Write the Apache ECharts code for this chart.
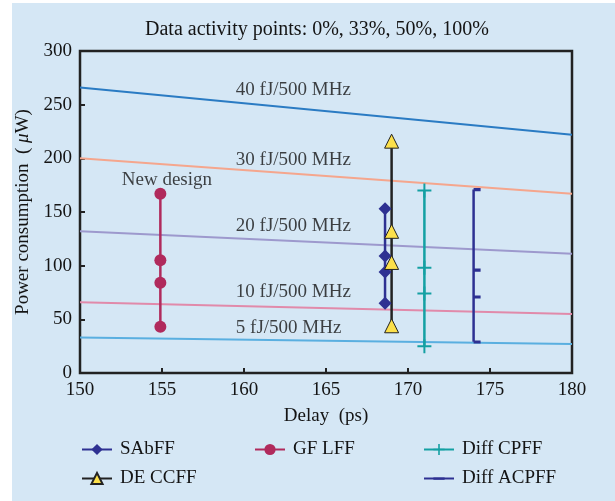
<!DOCTYPE html>
<html>
<head>
<meta charset="UTF-8">
<title>Power vs delay</title>
<script type="text/javascript" src="https://cdn.jsdelivr.net/npm/echarts@6/dist/echarts.min.js"></script>
<style>
  body { margin: 0; background: #fff; }
</style>
</head>
<body>

<div id="box" style="width:615px;height:501px;"></div>

<script type="text/javascript">

// flip-flop designs: one delay each, power at activity 0%, 33%, 50%, 100%
var sabffDelay = 168.6;
var sabffPower = [65, 94, 109, 153];
var gflffDelay = 154.9;
var gflffPower = [43, 84, 105, 167];
var deccffDelay = 169.0;
var deccffPower = [44, 103, 132, 216];
var cpffDelay = 171.0;
var cpffPower = [25, 74, 98, 170];
var acpffDelay = 174.0;
var acpffPower = [29, 71, 96, 171];

// constant energy lines (value at 150 ps and at 180 ps)
var energyNames = ['40 fJ/500 MHz', '30 fJ/500 MHz', '20 fJ/500 MHz', '10 fJ/500 MHz', '5 fJ/500 MHz'];
var energyDelay = [150, 180];
var energyStart = [266, 200, 132, 66, 33];
var energyEnd = [222, 167, 111, 55, 27];
var energyColors = ['#2a7bc3', '#f5a68d', '#9d99cd', '#e18aaa', '#5aafe0'];

// text notes on the plot
var noteText = ['40 fJ/500 MHz', '30 fJ/500 MHz', '20 fJ/500 MHz', '10 fJ/500 MHz', '5 fJ/500 MHz', 'New design'];
var noteX = [159.5, 159.5, 159.5, 159.5, 159.5, 155.3];
var noteY = [263.5, 198.5, 137, 75.5, 42, 180];

var serif = 'Liberation Serif';
var ink = '#141414';
var fs = 19;

function pts(x, arr) {
  return arr.map(function (v) { return [x, v]; });
}

// short dash inside a square box (tiny corner dots fix the box),
// so the legend shows it thin instead of a filled square
var dashSymbol = 'path://M0,0H0.01V0.01H0Z M0,4H10V6.2H0Z M9.99,9.99H10V10H9.99Z';

var series = [];

energyNames.forEach(function (n, i) {
  series.push({
    name: n,
    type: 'line',
    data: [[energyDelay[0], energyStart[i]], [energyDelay[1], energyEnd[i]]],
    symbol: 'none',
    lineStyle: { color: energyColors[i], width: 2 },
    silent: true,
    z: 1
  });
});

series.push({
  name: 'SAbFF', type: 'line', data: pts(sabffDelay, sabffPower),
  symbol: 'diamond', symbolSize: 13,
  itemStyle: { color: '#2e3192' },
  lineStyle: { color: '#2e3192', width: 2.5 }
});
series.push({
  name: 'GF LFF', type: 'line', data: pts(gflffDelay, gflffPower),
  symbol: 'circle', symbolSize: 12,
  itemStyle: { color: '#b02a5c' },
  lineStyle: { color: '#b02a5c', width: 2.5 }
});
series.push({
  name: 'DE CCFF', type: 'line', data: pts(deccffDelay, deccffPower),
  symbol: 'triangle', symbolSize: 14,
  itemStyle: { color: '#fce04a', borderColor: '#222', borderWidth: 1 },
  lineStyle: { color: '#222', width: 2.5 }
});
series.push({
  name: 'Diff CPFF', type: 'line', data: pts(cpffDelay, cpffPower),
  symbol: 'path://M0,6H14V8H0Z M6,0H8V14H6Z', symbolSize: 14,
  itemStyle: { color: '#14a0a3' },
  lineStyle: { color: '#14a0a3', width: 2.5 }
});
series.push({
  name: 'Diff ACPFF', type: 'line', data: pts(acpffDelay, acpffPower),
  symbol: dashSymbol, symbolSize: [7, 14], symbolOffset: [3.5, 0],
  itemStyle: { color: '#2e3192' },
  lineStyle: { color: '#2e3192', width: 2.5 }
});

series.push({
  name: 'notes',
  type: 'scatter',
  symbolSize: 0,
  silent: true,
  z: 5,
  data: noteText.map(function (t, i) {
    return {
      name: t,
      value: [noteX[i], noteY[i]],
      label: { align: i === 5 ? 'center' : 'left' }
    };
  }),
  label: {
    show: true,
    position: 'inside',
    formatter: '{b}',
    fontFamily: serif,
    fontSize: fs,
    color: ink
  }
});

var legendBase = {
  orient: 'vertical',
  top: 440,
  padding: 0,
  itemWidth: 30,
  itemHeight: 14,
  itemGap: 10,
  textStyle: { fontFamily: serif, fontSize: fs, lineHeight: 14, color: ink, padding: [0, 0, 0, 3] },
  selectedMode: false
};

var option = {
  animation: false,
  backgroundColor: 'transparent',
  graphic: [{
    type: 'rect',
    z: -10,
    silent: true,
    shape: { x: 12, y: 3, width: 603, height: 498 },
    style: { fill: '#d5e7f5' }
  }],
  title: {
    text: 'Data activity points: 0%, 33%, 50%, 100%',
    left: 145,
    top: 20,
    padding: 0,
    textStyle: { fontFamily: serif, fontSize: 20, fontWeight: 'normal', color: ink }
  },
  legend: [
    Object.assign({}, legendBase, { left: 81, data: ['SAbFF', 'DE CCFF'] }),
    Object.assign({}, legendBase, { left: 254, data: ['GF LFF'] }),
    Object.assign({}, legendBase, { left: 423, data: ['Diff CPFF', 'Diff ACPFF'] })
  ],
  grid: {
    left: 80, right: 43, top: 51, bottom: 128,
    show: true,
    borderColor: '#222',
    borderWidth: 2.5,
    backgroundColor: 'transparent'
  },
  xAxis: {
    type: 'value',
    min: 150, max: 180, interval: 5,
    name: 'Delay  (ps)',
    nameLocation: 'middle',
    nameGap: 34,
    nameTextStyle: { fontFamily: serif, fontSize: fs, color: ink },
    axisLine: { show: false },
    axisTick: { show: true, inside: true, length: 5, lineStyle: { color: '#222', width: 2 } },
    axisLabel: { fontFamily: serif, fontSize: fs, color: ink, margin: 8 },
    splitLine: { show: false }
  },
  yAxis: {
    type: 'value',
    min: 0, max: 300, interval: 50,
    name: 'Power consumption  ( {i|μ}W)',
    nameLocation: 'middle',
    nameGap: 43,
    nameTextStyle: {
      fontFamily: serif, fontSize: fs, color: ink,
      rich: { i: { fontFamily: serif, fontSize: fs, fontStyle: 'italic', color: ink } }
    },
    axisLine: { show: false },
    axisTick: { show: true, inside: true, length: 5, lineStyle: { color: '#222', width: 2 } },
    axisLabel: { fontFamily: serif, fontSize: fs, color: ink, margin: 8 },
    splitLine: { show: false }
  },
  series: series
};

var mychart = echarts.init(document.getElementById('box'));
mychart.setOption(option);
</script>
</body>
</html>
